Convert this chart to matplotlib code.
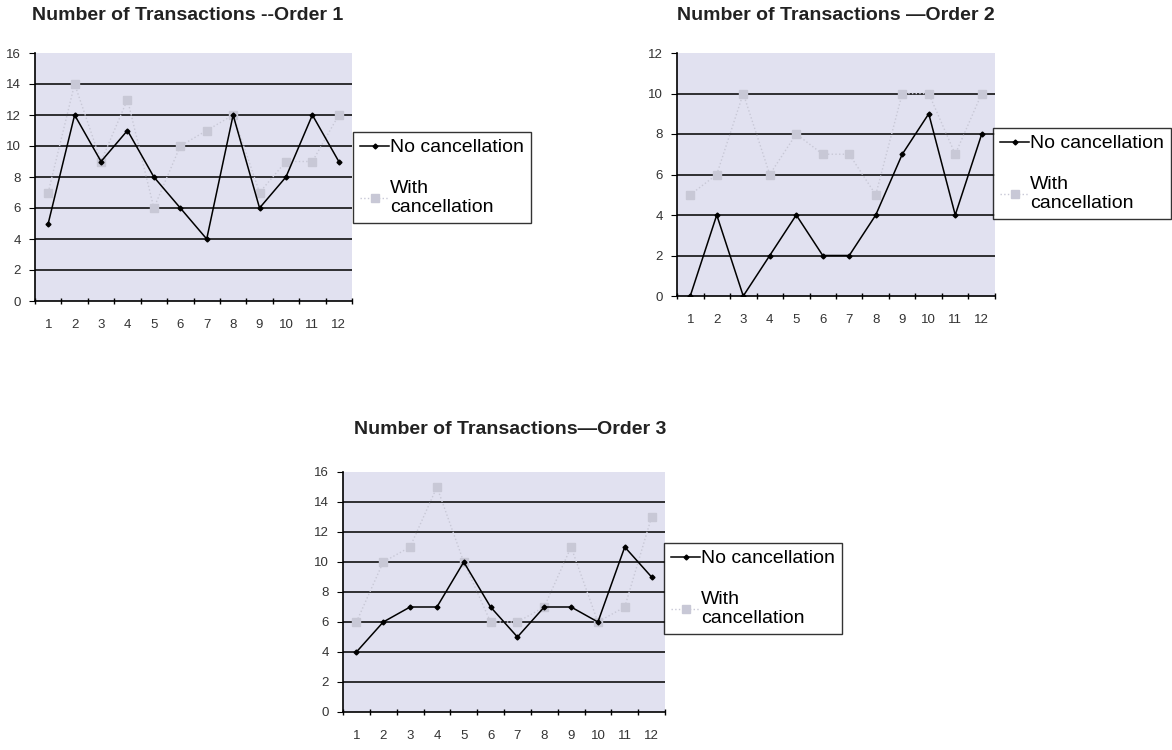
import matplotlib
matplotlib.use("Agg")
import matplotlib.pyplot as plt
import numpy as np

months = list(range(1, 13))

# order 1
o1_no = [5, 12, 9, 11, 8, 6, 4, 12, 6, 8, 12, 9]
o1_with = [7, 14, 9, 13, 6, 10, 11, 12, 7, 9, 9, 12]
# order 2
o2_no = [0, 4, 0, 2, 4, 2, 2, 4, 7, 9, 4, 8]
o2_with = [5, 6, 10, 6, 8, 7, 7, 5, 10, 10, 7, 10]
# order 3
o3_no = [4, 6, 7, 7, 10, 7, 5, 7, 7, 6, 11, 9]
o3_with = [6, 10, 11, 15, 10, 6, 6, 7, 11, 6, 7, 13]

titles = ["Number of Transactions --Order 1",
          "Number of Transactions \u2014Order 2",
          "Number of Transactions\u2014Order 3"]
ymaxes = [16, 12, 16]

W, H = 1172, 750
fig = plt.figure(figsize=(W / 100, H / 100), dpi=100)
plt.rcParams['font.family'] = ['Liberation Sans', 'DejaVu Sans']

bg = '#e1e1f0'
grey = '#c8c8d6'


def px_axes(l, t, r, b):
    return fig.add_axes([l / W, 1 - b / H, (r - l) / W, (b - t) / H])


def panel(box, no, wth, title, ymax, title_xy, leg_box):
    ax = px_axes(*box)
    ax.set_facecolor(bg)
    ax.plot(months, wth, linestyle=':', color=grey, lw=1.0,
            marker='s', ms=6, mfc=grey, mec=grey, label='With\ncancellation', zorder=2)
    ax.plot(months, no, color='black', lw=1.1, marker='D', ms=2.5,
            label='No cancellation', zorder=3)
    ax.set_xlim(0.5, 12.5)
    ax.set_ylim(0, ymax)
    ax.set_yticks(np.arange(0, ymax + 1, 2))
    ax.set_xticks(months)
    ax.set_xticks(np.arange(0.5, 13, 1), minor=True)
    ax.tick_params(axis='x', which='major', length=0, labelsize=9.5, pad=13)
    ax.tick_params(axis='x', which='minor', length=4, direction='inout', width=1)
    ax.tick_params(axis='y', length=4, direction='out', labelsize=9.5, pad=6)
    ax.tick_params(axis='both', labelcolor='#333333')
    for y in range(2, ymax, 2):
        ax.axhline(y, color='#111111', lw=1.2, zorder=1)
    for s in ['top', 'right']:
        ax.spines[s].set_visible(False)
    ax.spines['left'].set_linewidth(1.2)
    ax.spines['bottom'].set_linewidth(1.2)
    fig.text(title_xy[0] / W, 1 - title_xy[1] / H, title, ha='center', va='center',
             fontsize=14, fontweight='bold', color='#222222')
    l, t, r, b = leg_box
    h, lab = ax.get_legend_handles_labels()
    fig.legend(h[::-1], lab[::-1], loc='center',
               bbox_to_anchor=((l + r) / 2 / W, 1 - (t + b) / 2 / H),
               frameon=True, fancybox=False, edgecolor='black', fontsize=14,
               handlelength=1.5, handletextpad=0.05, borderpad=0.35,
               labelspacing=1.2, borderaxespad=0)
    return ax


panel((35, 53, 352, 301), o1_no, o1_with, titles[0], ymaxes[0], (188, 16), (357, 127, 527, 228))
panel((677, 53, 995, 296), o2_no, o2_with, titles[1], ymaxes[1], (836, 16), (996, 125, 1168, 222))
panel((343, 472, 665, 712), o3_no, o3_with, titles[2], ymaxes[2], (510, 430), (668, 540, 838, 637))

fig.savefig("out.png", dpi=100)
